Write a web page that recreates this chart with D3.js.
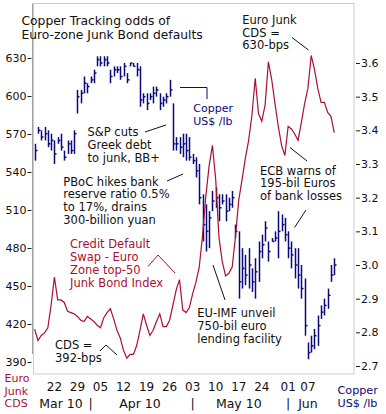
<!DOCTYPE html>
<html>
<head>
<meta charset="utf-8">
<script src="https://cdnjs.cloudflare.com/ajax/libs/d3/7.8.5/d3.min.js"></script>
<style>
  body { margin: 0; background: #fff; }
  svg { display: block; font-family: "DejaVu Sans", Verdana, sans-serif; }
</style>
</head>
<body>
<svg width="386" height="414"></svg>
<script>
// daily series, one value per calendar day from the first day
const firstDay = new Date(2010, 2, 16);
const copperHigh = [3.36,3.41,3.40,3.41,3.40,3.39,3.37,3.38,3.39,3.34,3.37,3.37,3.40,
  3.52,3.52,3.56,3.54,3.56,3.58,3.62,3.62,3.62,3.62,3.58,3.59,3.59,3.59,3.60,3.57,3.60,3.60,3.60,
  3.59,3.51,3.51,3.51,3.53,3.53,3.51,3.50,3.51,3.55,3.48,3.38,3.38,3.39,3.39,3.38,3.33,3.32,3.30,
  3.21,3.18,3.16,3.22,3.23,3.21,3.21,3.21,3.20,3.22,3.12,3.10,3.05,3.03,3.05,2.99,3.02,3.07,3.09,
  3.13,3.07,3.08,3.10,3.16,3.15,3.14,3.10,3.07,3.05,3.05,3.00,2.96,2.77,2.79,2.81,2.85,2.88,2.90,
  2.93,3.00,3.02];
const copperLow = [3.31,3.39,3.37,3.37,3.35,3.34,3.30,3.36,3.34,3.31,3.33,3.33,3.33,
  3.45,3.48,3.51,3.51,3.54,3.54,3.59,3.59,3.59,3.59,3.54,3.56,3.57,3.55,3.56,3.54,3.59,3.59,3.56,
  3.47,3.48,3.46,3.49,3.48,3.50,3.46,3.47,3.48,3.50,3.34,3.34,3.33,3.32,3.31,3.31,3.30,3.26,3.18,
  3.07,3.04,3.05,3.16,3.17,3.13,3.18,3.13,3.16,3.17,3.08,2.90,2.93,2.94,2.93,2.92,2.90,2.95,3.02,
  3.07,3.01,3.07,3.07,3.02,3.10,3.07,3.02,2.99,2.96,2.93,2.90,2.79,2.72,2.74,2.75,2.76,2.84,2.85,
  2.87,2.95,2.97];
const copperClose = [3.34,3.40,3.38,3.39,3.36,3.37,3.33,3.37,3.35,3.32,3.36,3.34,3.39,
  3.50,3.51,3.54,3.53,3.55,3.57,3.61,3.60,3.61,3.60,3.56,3.58,3.58,3.56,3.59,3.55,3.60,3.59,3.58,
  3.49,3.50,3.48,3.50,3.51,3.52,3.48,3.49,3.50,3.52,3.36,3.36,3.35,3.36,3.34,3.32,3.31,3.28,3.20,
  3.12,3.10,3.14,3.19,3.20,3.17,3.19,3.16,3.18,3.20,3.10,2.95,2.99,2.97,3.00,2.95,2.98,3.04,3.06,
  3.11,3.04,3.07,3.08,3.10,3.12,3.09,3.05,3.03,3.00,2.97,2.93,2.82,2.74,2.76,2.79,2.82,2.86,2.88,
  2.91,2.97,3.00];
const cdsValues = [416,407,411,413,417,435,457,439,439,437,
  430,429,428,426,423,422,426,424,422,419,
  417,425,429,432,424,415,409,399,393,396,
  396,403,415,428,419,411,415,422,428,418,
  418,423,435,447,455,431,429,433,444,453,
  465,490,521,545,561,534,488,469,458,460,
  465,489,518,534,551,565,585,614,586,580,
  593,627,613,594,576,561,553,576,574,570,
  565,579,594,606,632,621,606,595,595,587,
  584,571];

const cdsTicks = [390, 420, 450, 480, 510, 540, 570, 600, 630];
const copperTicks = [2.7, 2.8, 2.9, 3.0, 3.1, 3.2, 3.3, 3.4, 3.5, 3.6];
const weekTicks = ["2010-03-22","2010-03-29","2010-04-05","2010-04-12","2010-04-19","2010-04-26",
  "2010-05-03","2010-05-10","2010-05-17","2010-05-24","2010-06-01","2010-06-07"];
const monthNames = ["Mar 10", "Apr 10", "May 10", "Jun"];
const monthCentres = ["2010-03-24", "2010-04-17", "2010-05-17", "2010-06-07"];
const monthBreaks = ["2010-04-02", "2010-05-03", "2010-06-01"];

const parse = d3.timeParse("%Y-%m-%d");
const dates = copperHigh.map((_, i) => d3.timeDay.offset(firstDay, i));

const svg = d3.select("svg");
const navy = "#0a0a78";
const red = "#aa1030";

const x = d3.scaleTime()
    .domain([new Date(2010, 2, 15, 12), new Date(2010, 5, 21)])
    .range([33, 354]);
const yCds = d3.scaleLinear().domain([390, 630]).range([362, 58]);
const yCu = d3.scaleLinear().domain([2.7, 3.6]).range([366, 63]);

// frame
svg.append("rect")
    .attr("x", 33.5).attr("y", 3.5).attr("width", 320.5).attr("height", 370.5)
    .attr("fill", "none").attr("stroke", "#cccccc");
svg.append("line")
    .attr("x1", 32.5).attr("x2", 32.5).attr("y1", 3.5).attr("y2", 354)
    .attr("stroke", "#a0a0a0");

// axes
const leftAxis = svg.append("g")
    .attr("transform", "translate(31.5,0)")
    .call(d3.axisLeft(yCds).tickValues(cdsTicks).tickSize(4).tickPadding(1));
const rightAxis = svg.append("g")
    .attr("transform", "translate(356,0)")
    .call(d3.axisRight(yCu).tickValues(copperTicks).tickSize(4).tickPadding(1).tickFormat(d3.format(".1f")));
[leftAxis, rightAxis].forEach(g => {
    g.select(".domain").remove();
    g.selectAll("text").attr("font-size", 11).attr("font-family", "DejaVu Sans").attr("fill", "#111");
    g.selectAll("line").attr("stroke", "#222");
});

svg.append("g").selectAll("text")
    .data(weekTicks)
    .join("text")
    .attr("x", d => x(parse(d)))
    .attr("y", 391)
    .attr("text-anchor", "middle")
    .attr("font-size", 12)
    .attr("fill", "#111")
    .text(d => d.slice(8));

svg.append("g").selectAll("text")
    .data(monthNames)
    .join("text")
    .attr("x", (d, i) => x(parse(monthCentres[i])))
    .attr("y", 407.5)
    .attr("text-anchor", "middle")
    .attr("font-size", 12.5)
    .attr("fill", "#111")
    .text(d => d);

svg.append("g").selectAll("text")
    .data(monthBreaks)
    .join("text")
    .attr("x", d => x(parse(d)))
    .attr("y", 407.5)
    .attr("text-anchor", "middle")
    .attr("font-size", 12.5)
    .attr("fill", "#111")
    .text("|");

// copper bars
const bars = svg.append("g").attr("stroke", navy).attr("stroke-width", 1.5);
bars.selectAll("line.hl")
    .data(dates)
    .join("line")
    .attr("class", "hl")
    .attr("x1", d => Math.round(x(d)) + 0.5)
    .attr("x2", d => Math.round(x(d)) + 0.5)
    .attr("y1", (d, i) => yCu(copperHigh[i]))
    .attr("y2", (d, i) => yCu(copperLow[i]));
bars.selectAll("line.cl")
    .data(dates)
    .join("line")
    .attr("class", "cl")
    .attr("x1", d => Math.round(x(d)) + 0.5)
    .attr("x2", d => Math.round(x(d)) + 2.5)
    .attr("y1", (d, i) => yCu(copperClose[i]))
    .attr("y2", (d, i) => yCu(copperClose[i]));

// CDS line
svg.append("path")
    .datum(cdsValues)
    .attr("fill", "none")
    .attr("stroke", red)
    .attr("stroke-width", 1.2)
    .attr("d", d3.line().x((d, i) => x(dates[i])).y(d => yCds(d)));

// annotations
function note(lines, x0, y0, lh, color, size) {
    const t = svg.append("text")
        .attr("font-size", size)
        .attr("fill", color);
    lines.forEach((s, i) => t.append("tspan").attr("x", x0).attr("y", y0 + i * lh).text(s));
}
function leader(pts, color) {
    svg.append("path")
        .attr("d", d3.line()(pts))
        .attr("fill", "none")
        .attr("stroke", color)
        .attr("stroke-width", 1);
}

note(["Copper Tracking odds of", "Euro-zone Junk Bond defaults"], 21.5, 25, 13.7, "#111", 12.3);
note(["S&P cuts", "Greek debt", "to junk, BB+"], 87.5, 136, 13, "#111", 11.5);
leader([[145, 132], [166, 125]], "#111");
note(["PBoC hikes bank", "reserve ratio 0.5%", "to 17%, drains", "300-billion yuan"], 63.3, 185.5, 12.8, "#111", 11.5);
leader([[167, 181], [183, 174]], "#111");
note(["Copper", "US$ /lb"], 193.3, 112, 12.6, navy, 11);
leader([[180, 87.5], [207, 87.5], [207, 99]], navy);
note(["Euro Junk", "CDS =", "630-bps"], 242.3, 24, 12.5, "#111", 11.5);
leader([[292, 37.5], [308.5, 50]], "#111");
note(["ECB warns of", "195-bil Euros", "of bank losses"], 260, 174.5, 12.8, "#111", 11.5);
leader([[290, 147.5], [307, 161]], "#111");
leader([[306, 210], [294.5, 227.5]], "#111");
note(["Credit Default", "Swap - Euro", "Zone top-50", "Junk Bond Index"], 70, 248.3, 12.8, red, 11.5);
leader([[148, 266.5], [158, 255], [175, 273]], red);
note(["CDS =", "392-bps"], 55, 349, 12.7, "#111", 11.5);
leader([[100, 351], [106, 345], [117, 355]], "#111");
note(["EU-IMF unveil", "750-bil euro", "lending facility"], 197.3, 317.3, 12.7, "#111", 11.5);
leader([[213, 265], [225, 300]], "#111");

note(["Euro", "Junk", "CDS"], 4.5, 382, 12.6, red, 11);
note(["Copper", "US$ /lb"], 337.5, 394, 12.7, navy, 11.2);
</script>
</body>
</html>
